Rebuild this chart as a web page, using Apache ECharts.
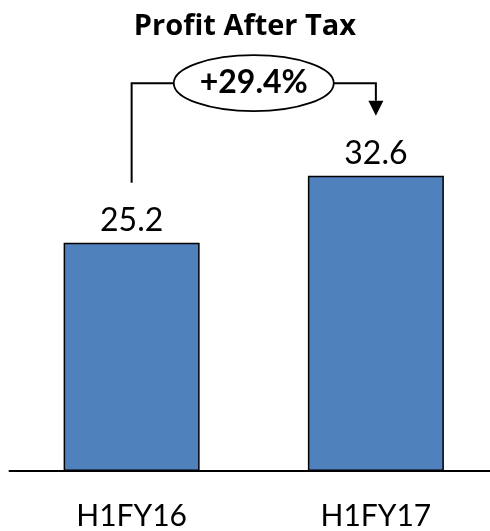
<!DOCTYPE html>
<html>
<head>
<meta charset="utf-8">
<style>
  html, body { margin: 0; padding: 0; background: #fff; }
  #chart { width: 490px; height: 531px; }
</style>
<script src="https://cdn.jsdelivr.net/npm/echarts@6/dist/echarts.min.js"></script>
</head>
<body>
<div id="chart"></div>
<script>
// Half-year profit after tax
const categories = ['H1FY16', 'H1FY17'];
const profit = [25.2, 32.6];
const growthLabel = '+29.4%';

const FONT = 'Lato, "Noto Sans", sans-serif';
const chart = echarts.init(document.getElementById('chart'));

chart.setOption({
  animation: false,
  title: {
    text: 'Profit After Tax',
    left: 240,
    textAlign: 'center',
    top: 7,
    textStyle: { fontFamily: '"Open Sans", Lato, sans-serif', fontSize: 29, fontWeight: 'bold', color: '#000' }
  },
  // the plot area runs slightly past the right edge of the canvas
  grid: { left: 9.5, width: 488.5, top: 18, bottom: 60, outerBoundsMode: 'none', containLabel: false },
  xAxis: {
    type: 'category',
    data: categories,
    axisLine: { lineStyle: { color: '#000', width: 2 } },
    axisTick: { show: false },
    axisLabel: { fontFamily: FONT, fontSize: 30, color: '#000', margin: 30 }
  },
  yAxis: {
    type: 'value',
    min: 0,
    max: 50,
    show: false,
    splitLine: { show: false }
  },
  series: [{
    type: 'bar',
    data: profit,
    barWidth: 136,
    itemStyle: { color: '#4F81BD', borderColor: '#000', borderWidth: 1.5 },
    label: {
      show: true,
      position: 'top',
      distance: 6,
      fontFamily: FONT,
      fontSize: 32,
      color: '#000',
      formatter: p => p.value.toFixed(1)
    }
  }]
});

// Growth bracket: rises from above the first bar, passes through the
// ellipse badge and drops with an arrow toward the second bar.
function drawBracket() {
  const p0 = chart.convertToPixel({ seriesIndex: 0 }, [0, profit[0]]);
  const p1 = chart.convertToPixel({ seriesIndex: 0 }, [1, profit[1]]);
  const gap = 60;                                  // space kept above each bar
  const levelY = Math.min(p0[1], p1[1]) - 92.5;    // height of the bracket
  const midX = (p0[0] + p1[0]) / 2;
  const rx = 80, ry = 28;
  const headH = 15, headW = 7.5;
  const tipY = p1[1] - gap;
  const line = { stroke: '#000', lineWidth: 2 };

  chart.setOption({
    graphic: [
      {
        type: 'polyline',
        shape: { points: [[p0[0], p0[1] - gap], [p0[0], levelY], [midX - rx, levelY]] },
        style: Object.assign({ fill: null }, line)
      },
      {
        type: 'polyline',
        shape: { points: [[midX + rx, levelY], [p1[0], levelY], [p1[0], tipY - headH]] },
        style: Object.assign({ fill: null }, line)
      },
      {
        type: 'polygon',
        shape: { points: [[p1[0] - headW, tipY - headH], [p1[0] + headW, tipY - headH], [p1[0], tipY]] },
        style: { fill: '#000' }
      },
      {
        type: 'ellipse',
        shape: { cx: midX, cy: levelY, rx: rx, ry: ry },
        style: { fill: '#fff', stroke: '#000', lineWidth: 1.8 }
      },
      {
        type: 'text',
        x: midX,
        y: levelY,
        style: {
          text: growthLabel,
          fontFamily: FONT,
          fontSize: 32,
          fontWeight: 'bold',
          fill: '#000',
          align: 'center',
          verticalAlign: 'middle'
        }
      }
    ]
  });
}
drawBracket();
</script>
</body>
</html>
